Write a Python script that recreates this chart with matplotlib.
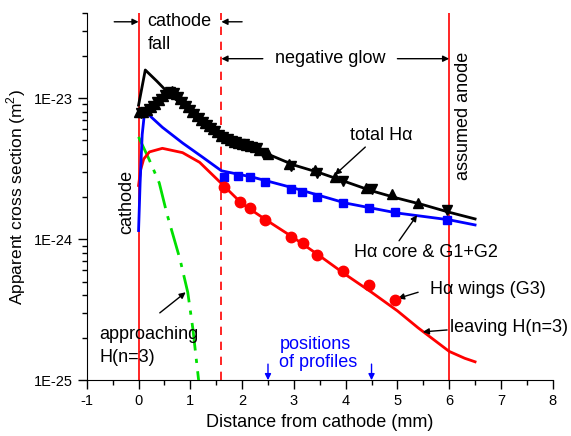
import numpy as np
import matplotlib
matplotlib.use("Agg")
import matplotlib.pyplot as plt
from matplotlib.ticker import FixedLocator, MultipleLocator, LogLocator, NullFormatter

plt.rcParams["font.family"] = ["Liberation Sans", "DejaVu Sans"]
plt.rcParams["mathtext.fontset"] = "custom"
plt.rcParams["mathtext.rm"] = "Liberation Sans"
plt.rcParams["axes.unicode_minus"] = False

# measured total H-alpha (up / down triangles)
tri_up_x = [0.00, 0.08, 0.16, 0.24, 0.32, 0.40, 0.48, 0.56, 0.64, 0.72, 0.80, 0.88,
            0.96, 1.04, 1.12, 1.20, 1.28, 1.36, 1.44, 1.52, 1.60, 1.68, 1.76, 1.84,
            1.92, 2.00, 2.08, 2.16, 2.24, 2.32, 2.50, 2.90, 3.40, 3.80, 4.40, 4.90, 5.40]
tri_up_y = [7.9, 7.9, 8.2, 8.6, 9.1, 9.7, 10.3, 10.9, 11.3, 10.6, 9.9, 9.2,
            8.6, 8.0, 7.5, 7.0, 6.6, 6.3, 6.0, 5.7, 5.4, 5.2, 5.05, 4.9,
            4.8, 4.75, 4.65, 4.55, 4.5, 4.3, 4.0, 3.4, 3.1, 2.75, 2.3, 2.1, 1.8]
tri_dn_x = [0.04, 0.12, 0.20, 0.28, 0.36, 0.44, 0.52, 0.60, 0.68, 0.76, 0.84, 0.92,
            1.00, 1.08, 1.16, 1.24, 1.32, 1.40, 1.48, 1.56, 1.64, 1.72, 1.80, 1.88,
            1.96, 2.04, 2.12, 2.20, 2.28, 2.40, 2.95, 3.45, 3.95, 4.50, 5.95]
tri_dn_y = [7.8, 8.0, 8.4, 8.8, 9.3, 9.9, 10.5, 11.0, 10.8, 10.1, 9.4, 8.8,
            8.2, 7.7, 7.2, 6.8, 6.4, 6.1, 5.8, 5.5, 5.3, 5.1, 4.95, 4.85,
            4.75, 4.7, 4.6, 4.5, 4.4, 4.1, 3.3, 2.95, 2.6, 2.25, 1.6]

# H-alpha core & G1+G2 (squares)
sq_x = [1.65, 1.92, 2.15, 2.45, 2.95, 3.15, 3.45, 3.95, 4.45, 4.95, 5.95]
sq_y = [2.75, 2.8, 2.75, 2.55, 2.25, 2.15, 2.0, 1.8, 1.65, 1.55, 1.37]

# H-alpha wings G3 (circles)
ci_x = [1.65, 1.95, 2.15, 2.45, 2.95, 3.17, 3.45, 3.95, 4.45, 4.95]
ci_y = [2.34, 1.83, 1.65, 1.37, 1.03, 0.94, 0.77, 0.59, 0.47, 0.37]

# model curves (units of 1E-24 m^2)
tot_x = [0.0, 0.13, 0.35, 0.56, 0.8, 1.0, 1.2, 1.6, 2.0, 2.5, 3.0, 3.5, 4.0, 4.5, 5.0, 5.5, 6.0, 6.5]
tot_y = [8.9, 15.8, 13.2, 11.0, 9.2, 7.9, 6.9, 5.4, 4.7, 4.0, 3.35, 2.95, 2.55, 2.2, 1.95, 1.75, 1.55, 1.39]

core_x = [0.0, 0.03, 0.07, 0.12, 0.25, 0.46, 0.85, 1.24, 1.6, 2.2, 3.0, 4.0, 5.0, 6.0, 6.5]
core_y = [1.15, 2.5, 5.5, 8.2, 7.3, 6.2, 4.8, 3.8, 3.05, 2.75, 2.3, 1.8, 1.53, 1.37, 1.26]

leave_x = [0.0, 0.04, 0.10, 0.21, 0.46, 0.85, 1.18, 1.59, 2.0, 2.46, 3.0, 3.5, 4.0, 4.5,
           5.0, 5.4, 6.0, 6.3, 6.5]
leave_y = [2.4, 3.1, 3.7, 4.15, 4.4, 4.1, 3.5, 2.5, 1.78, 1.37, 1.02, 0.76, 0.56, 0.42,
           0.31, 0.235, 0.16, 0.143, 0.135]

appr_x = [0.0, 0.2, 0.4, 0.55, 0.8, 0.95, 1.05, 1.16]
appr_y = [5.3, 3.7, 2.5, 1.5, 0.72, 0.42, 0.23, 0.10]

xticks = [-1, 0, 1, 2, 3, 4, 5, 6, 7, 8]
yticks = [1e-25, 1e-24, 1e-23]
ytick_labels = ["1E-25", "1E-24", "1E-23"]

s = 1e-24
fig = plt.figure(figsize=(5.71, 4.36), dpi=100)
ax = fig.add_axes([0.152, 0.128, 0.816, 0.842])

ax.set_yscale("log")
ax.set_xlim(-1, 8)
ax.set_ylim(1e-25, 4e-23)

for side in ["top", "right"]:
    ax.spines[side].set_visible(False)

# region boundaries
ax.axvline(0, color="red", lw=1.2, zorder=1)
ax.axvline(1.6, color="red", lw=1.2, ls=(0, (5, 4)), zorder=1)
ax.axvline(6, color="red", lw=1.2, zorder=1)

ax.plot(appr_x, np.array(appr_y) * s, color="#00e000", lw=2, ls=(0, (10, 3, 1.5, 3)), zorder=3)
ax.plot(leave_x, np.array(leave_y) * s, color="red", lw=2, zorder=3)
ax.plot(core_x, np.array(core_y) * s, color="blue", lw=2, zorder=3)
ax.plot(tot_x, np.array(tot_y) * s, color="black", lw=2, zorder=3)

ax.plot(tri_up_x, np.array(tri_up_y) * s, ls="none", marker="^", ms=7, color="black", zorder=4)
ax.plot(tri_dn_x, np.array(tri_dn_y) * s, ls="none", marker="v", ms=7, color="black", zorder=4)
ax.plot(sq_x, np.array(sq_y) * s, ls="none", marker="s", ms=6, color="blue", zorder=4)
ax.plot(ci_x, np.array(ci_y) * s, ls="none", marker="o", ms=7.5, color="red", zorder=4)

fs = 13
arw = dict(arrowstyle="-|>", color="black", lw=1, mutation_scale=9, shrinkA=0, shrinkB=0)

# cathode fall
ax.annotate("", xy=(0, 3.47e-23), xytext=(-0.47, 3.47e-23), arrowprops=arw)
ax.annotate("", xy=(1.6, 3.47e-23), xytext=(2.0, 3.47e-23), arrowprops=arw)
ax.text(0.17, 3.5e-23, "cathode", fontsize=fs, va="center")
ax.text(0.17, 2.4e-23, "fall", fontsize=fs, va="center")

# negative glow
ax.annotate("", xy=(1.6, 1.9e-23), xytext=(2.4, 1.9e-23), arrowprops=arw)
ax.annotate("", xy=(6.0, 1.9e-23), xytext=(5.0, 1.9e-23), arrowprops=arw)
ax.text(3.7, 1.9e-23, "negative glow", fontsize=fs, va="center", ha="center")

ax.text(6.27, 7.5e-24, "assumed anode", fontsize=fs, rotation=90, va="center", ha="center")
ax.text(-0.23, 1.83e-24, "cathode", fontsize=fs, rotation=90, va="center", ha="center")

ax.annotate("total Hα", xy=(3.79, 2.85e-24), xytext=(4.68, 5.4e-24), fontsize=fs,
            ha="center", va="center",
            arrowprops=dict(arrowstyle="-|>", color="black", lw=1, mutation_scale=9,
                            shrinkA=0, shrinkB=0, relpos=(0.3, 0.0)))
ax.annotate("Hα core & G1+G2", xy=(5.38, 1.48e-24), xytext=(5.55, 8.1e-25), fontsize=fs,
            ha="center", va="center",
            arrowprops=dict(arrowstyle="-|>", color="black", lw=1, mutation_scale=9,
                            shrinkA=0, shrinkB=0, relpos=(0.3, 1.0)))
ax.annotate("", xy=(5.01, 3.8e-25), xytext=(5.40, 4.2e-25), arrowprops=arw)
ax.text(5.63, 4.4e-25, "Hα wings (G3)", fontsize=fs, va="center")
ax.annotate("", xy=(5.49, 2.2e-25), xytext=(5.96, 2.27e-25), arrowprops=arw)
ax.text(6.02, 2.35e-25, "leaving H(n=3)", fontsize=fs, va="center")

ax.annotate("", xy=(0.91, 4.2e-25), xytext=(0.41, 3.0e-25), arrowprops=arw)
ax.text(-0.75, 2.1e-25, "approaching", fontsize=fs, va="center")
ax.text(-0.75, 1.45e-25, "H(n=3)", fontsize=fs, va="center")

ax.text(2.72, 1.8e-25, "positions", fontsize=fs, va="center", color="blue")
ax.text(2.72, 1.33e-25, "of profiles", fontsize=fs, va="center", color="blue")
for xp in [2.5, 4.5]:
    ax.annotate("", xy=(xp, 1.0e-25), xytext=(xp, 1.3e-25),
                arrowprops=dict(arrowstyle="-|>", color="blue", lw=1, mutation_scale=9,
                                shrinkA=0, shrinkB=0))

ax.set_xticks(xticks)
ax.xaxis.set_minor_locator(MultipleLocator(0.5))
ax.yaxis.set_major_locator(FixedLocator(yticks))
ax.set_yticklabels(ytick_labels)
ax.yaxis.set_minor_locator(LogLocator(base=10, subs=np.arange(2, 10)))
ax.yaxis.set_minor_formatter(NullFormatter())
ax.tick_params(which="major", direction="out", length=6.5, width=1, labelsize=10.5)
ax.tick_params(which="minor", direction="out", length=3.5, width=1)

ax.set_xlabel("Distance from cathode (mm)", fontsize=13)
ax.set_ylabel("Apparent cross section (m$^2$)", fontsize=12.5)

fig.savefig("out.png", dpi=100)
